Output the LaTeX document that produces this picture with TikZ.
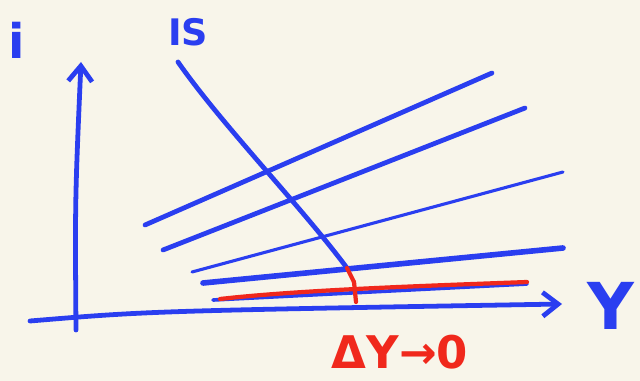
\documentclass[tikz,border=0pt]{standalone}
\usepackage{fontspec}
\setmainfont{DejaVu Sans}
\usetikzlibrary{arrows.meta}
\definecolor{paper}{RGB}{248,245,234}
\definecolor{penblue}{RGB}{42,62,240}
\definecolor{penred}{RGB}{240,40,28}

\begin{document}
\begin{tikzpicture}[x=0.25mm,y=-0.25mm,line cap=round,line join=round,
  pen/.style={penblue,line width=3.4pt},
  redpen/.style={penred,line width=3pt},
  barb/.style={-{Straight Barb[length=11pt,width=17pt]}},
  lab/.style={penblue,inner sep=0pt,font=\bfseries}]
  \fill[paper] (0,0) rectangle (640,381);
  \useasboundingbox (0,0) rectangle (640,381);

  % axes
  \coordinate (ybot) at (76,330);
  \coordinate (ytop) at (81,62);
  \coordinate (xleft) at (30,321);
  \coordinate (xright) at (562,304);
  \draw[pen,barb] (ybot) .. controls (75,200) .. (ytop);
  \draw[pen,barb] (xleft) .. controls (150,311) .. (xright);
  \node[lab,font=\bfseries\fontsize{34}{36}\selectfont] (ilab) at (17,40) {i};
  \node[lab,font=\bfseries\fontsize{46}{50}\selectfont] (Ylab) at (611,306) {Y};

  % LM curves
  \foreach \xa/\ya/\xb/\yb/\w in {145/225/492/73/3.4pt,163/250/525/108/3.4pt,
      192/272/563/172/2.2pt,203/283/563/248/4pt,213/300/527/284/2.6pt}
    \draw[penblue,line width=\w] (\xa,\ya) -- (\xb,\yb);

  % IS curve
  \coordinate (istop) at (178,62);
  \coordinate (isbot) at (347,268);
  \node[lab,font=\bfseries\fontsize{26}{28}\selectfont] (islab) at (188,32) {IS};
  \draw[pen] (istop) .. controls (222,125) and (300,205) .. (isbot);

  % equilibrium
  \coordinate (eqtop) at (354,282);
  \coordinate (eqbot) at (356,302);
  \draw[redpen] (isbot) -- (eqtop);
  \draw[redpen] (eqtop) -- (eqbot);
  \draw[redpen] (220,299) .. controls (300,290) and (420,286) .. (527,282);
  \node[penred,inner sep=0pt,font=\bfseries\fontsize{32}{36}\selectfont] (dylab) at (400,352) {ΔY→0};
\end{tikzpicture}
\end{document}
